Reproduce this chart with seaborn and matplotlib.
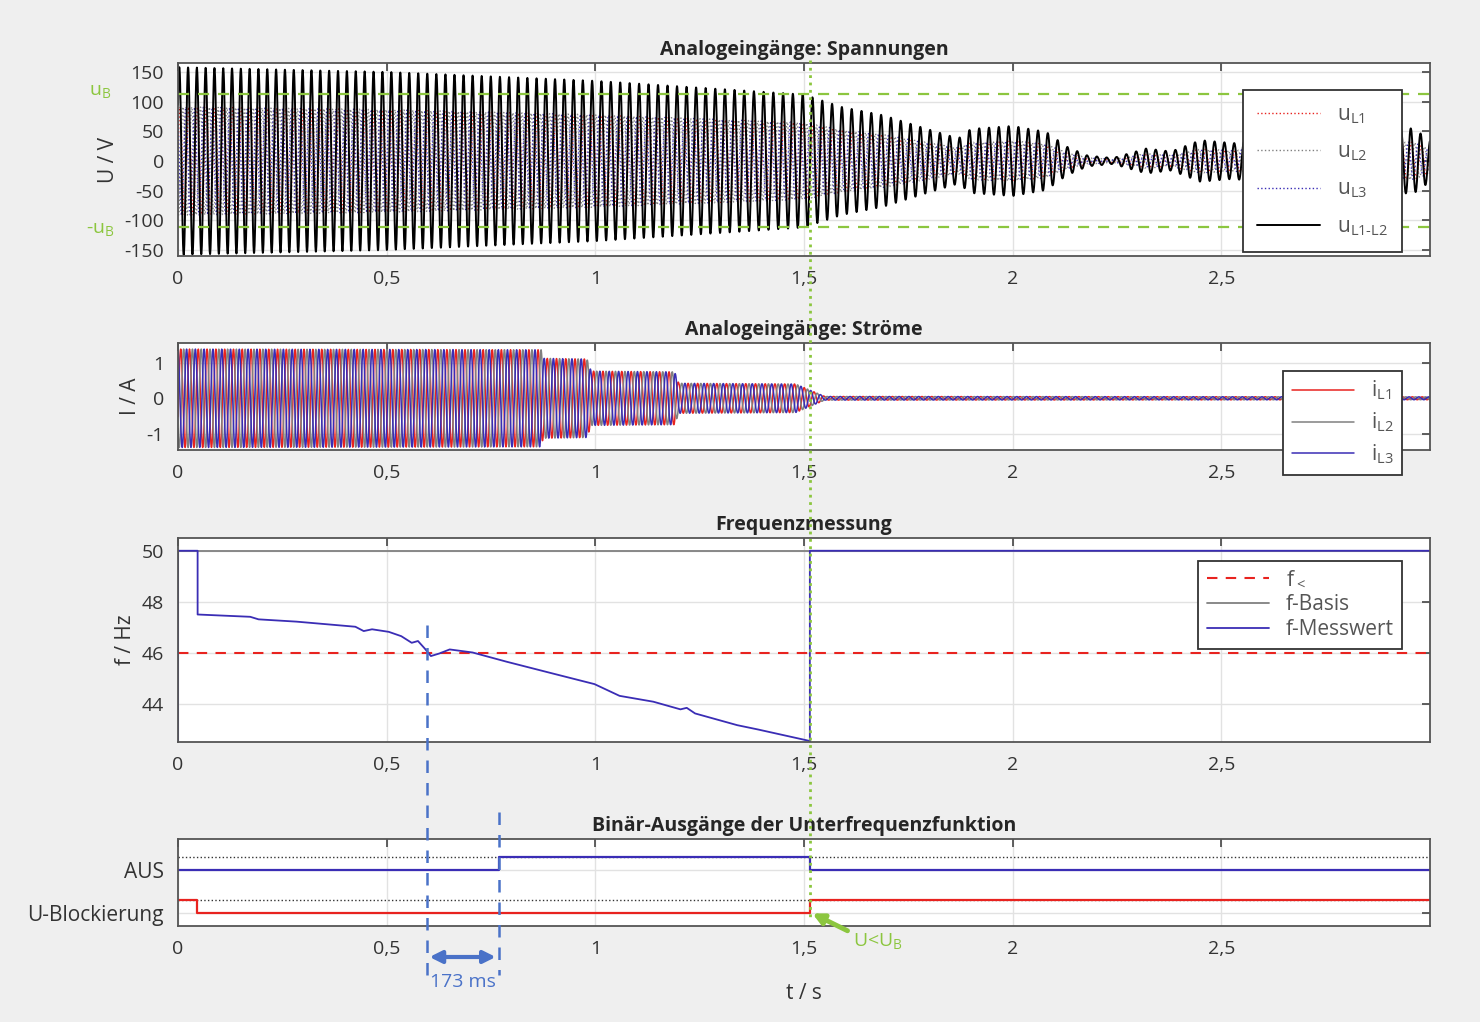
import numpy as np
import pandas as pd
import matplotlib
import matplotlib.pyplot as plt
import seaborn as sns
from matplotlib.lines import Line2D
from matplotlib.transforms import blended_transform_factory

# --- values ---
# measured frequency (f-Messwert), knots
f_t = [0.047, 0.173, 0.193, 0.284, 0.425, 0.445, 0.465, 0.505, 0.535, 0.560, 0.575, 0.591,
       0.606, 0.626, 0.651, 0.706, 0.787, 0.897, 0.998, 1.058, 1.139, 1.204, 1.219, 1.239,
       1.340, 1.390, 1.511]
f_val = [47.50, 47.41, 47.31, 47.22, 47.02, 46.85, 46.92, 46.82, 46.65, 46.39, 46.46, 46.17,
         45.87, 45.97, 46.13, 46.01, 45.65, 45.19, 44.77, 44.31, 44.08, 43.78, 43.84, 43.62,
         43.16, 42.99, 42.55]
f_limit = 46.0
f_basis = 50.0
t_trip_start = 0.596
t_trip_aus = 0.768
t_ublock = 1.514
t_ublock_end = 0.045

# envelope of u_L1-L2 (peak, V)
u_t = [0.0, 0.5, 1.0, 1.5, 1.59, 1.69, 1.79, 1.87, 1.90, 2.00, 2.08, 2.13, 2.18, 2.24,
       2.32, 2.38, 2.45, 2.53, 2.63, 2.75, 2.96, 3.0]
u_amp = [158, 150, 135, 112, 91, 77, 55, 38, 54, 59, 49, 24, 9, 5,
         21, 16, 35, 30, 41, 50, 55, 35]
u_B = 112

# current envelope (peak, A)
i_t = [0.0, 0.87, 0.875, 0.98, 0.99, 1.19, 1.20, 1.48, 1.55, 3.0]
i_amp = [1.38, 1.36, 1.12, 1.10, 0.76, 0.74, 0.42, 0.40, 0.05, 0.04]

xticks = [0, 0.5, 1, 1.5, 2, 2.5]
xticklabels = ["0", "0,5", "1", "1,5", "2", "2,5"]

# --- build signals from envelopes and the measured frequency ---
t = np.arange(0, 3.0, 0.0004)
f_inst = np.interp(t, f_t, f_val)
phase = 2 * np.pi * np.cumsum(f_inst) * 0.0004
env_u = np.interp(t, u_t, u_amp) / np.sqrt(3)
uL = [env_u * np.sin(phase - k * 2 * np.pi / 3) for k in range(3)]
u12 = uL[0] - uL[1]
env_i = np.interp(t, i_t, i_amp)
iL = [env_i * np.sin(phase - 0.5 - k * 2 * np.pi / 3) for k in range(3)]

# measured-frequency trace as drawn
fm_t = [0.0, 0.0, f_t[0]] + f_t + [t_ublock, t_ublock, 3.0]
fm_v = [42.5, 50.0, 50.0] + f_val + [42.5, 50.0, 50.0]

sns.set_theme(style="white")
plt.rcParams['font.family'] = ['Open Sans', 'DejaVu Sans']
plt.rcParams['mathtext.fontset'] = 'custom'
plt.rcParams['mathtext.rm'] = 'Open Sans'
plt.rcParams['axes.unicode_minus'] = False

BG = "#efefef"
GREEN = "#8cc63f"
RED = "#e8231f"
GRAY = "#808080"
BLUE = "#3a2db5"
ABLUE = "#4a72c8"

fig = plt.figure(figsize=(14.8, 10.22), dpi=100, facecolor=BG)
L, W = 178 / 1480, 1252 / 1480
def box(top, bot):
    return [L, 1 - bot / 1022, W, (bot - top) / 1022]

ax1 = fig.add_axes(box(63, 256))
ax2 = fig.add_axes(box(343, 450))
ax3 = fig.add_axes(box(538, 742))
ax4 = fig.add_axes(box(839, 926))

for ax in (ax1, ax2, ax3, ax4):
    ax.set_facecolor("white")
    ax.set_xlim(0, 3.0)
    ax.set_xticks(xticks)
    ax.set_xticklabels(xticklabels)
    ax.grid(True, color="#e2e2e2", lw=1)
    ax.tick_params(direction="in", top=True, right=True, length=6, width=1.2,
                   color="#444444", labelsize=14, labelcolor="#333333", pad=10)
    for s in ax.spines.values():
        s.set_color("#555555")
        s.set_linewidth(1.3)

legkw = dict(loc="upper right", fontsize=15, frameon=True, fancybox=False,
             edgecolor="#333333", handlelength=3, labelcolor="#555555", framealpha=1)

# panel 1: voltages
ax1.plot(t, uL[0], color=RED, ls=":", lw=1, label=r"u$_{\mathrm{L1}}$")
ax1.plot(t, uL[1], color=GRAY, ls=":", lw=1, label=r"u$_{\mathrm{L2}}$")
ax1.plot(t, uL[2], color=BLUE, ls=":", lw=1, label=r"u$_{\mathrm{L3}}$")
ax1.plot(t, u12, color="black", lw=1.4, label=r"u$_{\mathrm{L1\text{-}L2}}$")
ax1.axhline(u_B, color=GREEN, ls="--", lw=1.6, dashes=(5, 4))
ax1.axhline(-u_B, color=GREEN, ls="--", lw=1.6, dashes=(5, 4))
ax1.set_ylim(-160, 165)
ax1.set_yticks([-150, -100, -50, 0, 50, 100, 150])
ax1.set_ylabel("U / V", fontsize=15, color="#333333")
ax1.set_title("Analogeingänge: Spannungen", fontsize=14, fontweight="bold", pad=6)
tr = blended_transform_factory(ax1.transAxes, ax1.transData)
ax1.text(-0.062, u_B + 5, r"u$_{\mathrm{B}}$", color=GREEN, fontsize=14, transform=tr,
         ha="center", va="center")
ax1.text(-0.062, -u_B - 5, r"-u$_{\mathrm{B}}$", color=GREEN, fontsize=14, transform=tr,
         ha="center", va="center")
leg = ax1.legend(bbox_to_anchor=(0.986, 0.915), labelspacing=0.75, borderpad=0.7, **legkw)
leg.get_frame().set_linewidth(1.3)

# panel 2: currents
ax2.plot(t, iL[0], color=RED, lw=1.1, label=r"i$_{\mathrm{L1}}$")
ax2.plot(t, iL[1], color=GRAY, lw=1.1, label=r"i$_{\mathrm{L2}}$")
ax2.plot(t, iL[2], color=BLUE, lw=1.1, label=r"i$_{\mathrm{L3}}$")
ax2.set_ylim(-1.45, 1.55)
ax2.set_yticks([-1, 0, 1])
ax2.set_ylabel("I / A", fontsize=15, color="#333333")
ax2.set_title("Analogeingänge: Ströme", fontsize=14, fontweight="bold", pad=6)
leg = ax2.legend(bbox_to_anchor=(0.986, 0.84), labelspacing=0.4, borderpad=0.4, **legkw)
leg.get_frame().set_linewidth(1.3)

# panel 3: frequency
ax3.axhline(f_limit, color=RED, ls="--", lw=1.5, dashes=(5, 4), label=r"f$_{<}$")
ax3.axhline(f_basis, color=GRAY, lw=1.3, label="f-Basis")
sns.lineplot(x=fm_t, y=fm_v, ax=ax3, color=BLUE, lw=1.3, sort=False, estimator=None,
             label="f-Messwert")
ax3.set_ylim(42.5, 50.5)
ax3.set_yticks([44, 46, 48, 50])
ax3.set_ylabel("f / Hz", fontsize=15, color="#333333")
ax3.set_title("Frequenzmessung", fontsize=14, fontweight="bold", pad=6)
leg = ax3.legend(bbox_to_anchor=(0.986, 0.94), labelspacing=0.2, borderpad=0.4, **legkw)
leg.get_frame().set_linewidth(1.3)

# panel 4: binary outputs
aus_t = [0, t_trip_aus, t_trip_aus, t_ublock, t_ublock, 3.0]
aus_v = [1, 1, 1.3, 1.3, 1, 1]
ub_t = [0, t_ublock_end, t_ublock_end, t_ublock, t_ublock, 3.0]
ub_v = [0.3, 0.3, 0, 0, 0.3, 0.3]
ax4.axhline(1.3, color="#333333", ls=":", lw=1)
ax4.axhline(0.3, color="#333333", ls=":", lw=1)
ax4.plot(aus_t, aus_v, color=BLUE, lw=1.6)
ax4.plot(ub_t, ub_v, color=RED, lw=1.6)
ax4.set_ylim(-0.3, 1.72)
ax4.set_yticks([0, 1])
ax4.set_yticklabels(["U-Blockierung", "AUS"], fontsize=15)
ax4.set_title("Binär-Ausgänge der Unterfrequenzfunktion", fontsize=14, fontweight="bold", pad=6)
ax4.set_xlabel("t / s", fontsize=15, color="#333333", labelpad=18)

# cross-panel markers
H = 1022
trf = blended_transform_factory(ax4.transData, fig.transFigure)
fig.add_artist(Line2D([t_ublock, t_ublock], [1 - 60 / H, 1 - 918 / H], transform=trf,
                      color=GREEN, ls=":", lw=2))
for x, y0 in [(t_trip_start, 625), (t_trip_aus, 812)]:
    fig.add_artist(Line2D([x, x], [1 - y0 / H, 1 - 975 / H], transform=trf,
                          color=ABLUE, ls="--", lw=1.8, dashes=(5, 4)))
ax4.annotate("", xy=(t_trip_start, 1 - 957 / H), xytext=(t_trip_aus, 1 - 957 / H),
             xycoords=trf, textcoords=trf,
             arrowprops=dict(arrowstyle="<|-|>", color=ABLUE, lw=3, mutation_scale=18))
ax4.text((t_trip_start + t_trip_aus) / 2, 1 - 982 / H, "173 ms", transform=trf,
         color=ABLUE, fontsize=14, ha="center", va="center")
ax4.annotate("", xy=(t_ublock, 0.02), xycoords="data",
             xytext=(850, H - 932), textcoords="figure pixels",
             arrowprops=dict(arrowstyle="-|>", color=GREEN, lw=3.5, mutation_scale=16))
fig.text(878 / 1480, 1 - 942 / H, r"U<U$_{\mathrm{B}}$", color=GREEN, fontsize=14,
         ha="center", va="center")

fig.savefig("out.png", dpi=100, facecolor=BG)
